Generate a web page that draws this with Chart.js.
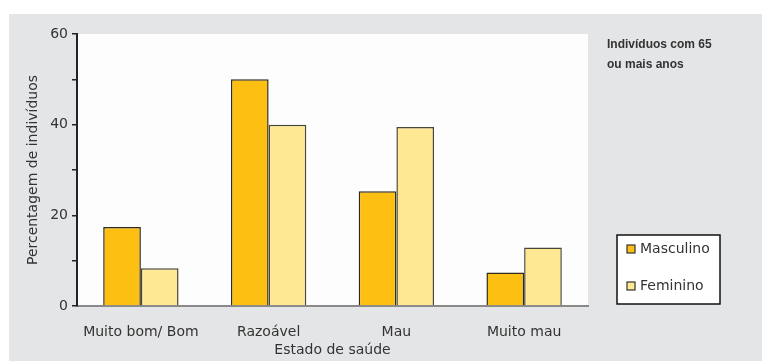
<!DOCTYPE html>
<html lang="pt">
<head>
    <meta charset="UTF-8">
    <title>Estado de saúde - Indivíduos com 65 ou mais anos</title>
    <style>
        html, body {
            margin: 0;
            padding: 0;
            background: #ffffff;
        }

        .chart-wrap {
            position: relative;
            width: 762px;
            height: 361px;
        }
    </style>
    <script src="https://cdn.jsdelivr.net/npm/chart.js"></script>
</head>
<body>
    <div class="chart-wrap">
        <canvas id="healthChart" width="762" height="361"></canvas>
    </div>

    <script>
        const categories = ['Muito bom/ Bom', 'Razoável', 'Mau', 'Muito mau'];
        const seriesNames = ['Masculino', 'Feminino'];
        const masculino = [17.4, 50, 25.3, 7.4];
        const feminino = [8.3, 40, 39.5, 12.9];
        const yTicks = [0, 20, 40, 60];

        const panelTitle = ['Indivíduos com 65', 'ou mais anos'];
        const textColor = '#333333';
        const fontFamily = '"DejaVu Sans", Verdana, sans-serif';

        // gray panel behind everything, white plot area
        const backgroundPlugin = {
            id: 'panelBackground',
            beforeDraw(chart) {
                const ctx = chart.ctx;
                const area = chart.chartArea;
                ctx.save();
                ctx.fillStyle = '#ffffff';
                ctx.fillRect(0, 0, chart.width, chart.height);
                ctx.fillStyle = '#e4e5e7';
                ctx.fillRect(9, 14, chart.width - 9, chart.height - 14);
                ctx.fillStyle = '#fdfdfd';
                ctx.fillRect(area.left, area.top, area.right - area.left, area.bottom - area.top);
                ctx.restore();
            }
        };

        // side title and boxed legend on the right
        const sidePlugin = {
            id: 'sidePanel',
            afterDraw(chart) {
                const ctx = chart.ctx;
                ctx.save();

                ctx.fillStyle = textColor;
                ctx.font = 'bold 12px "Liberation Sans", Arial, sans-serif';
                ctx.textBaseline = 'alphabetic';
                ctx.textAlign = 'left';
                panelTitle.forEach((line, i) => {
                    ctx.fillText(line, 607, 48 + i * 20);
                });

                const box = { x: 617, y: 235, w: 103, h: 69 };
                ctx.fillStyle = '#ffffff';
                ctx.fillRect(box.x, box.y, box.w, box.h);
                ctx.lineWidth = 1.5;
                ctx.strokeStyle = '#111111';
                ctx.strokeRect(box.x, box.y, box.w, box.h);

                ctx.font = '14px ' + fontFamily;
                ctx.textBaseline = 'middle';
                chart.data.datasets.forEach((ds, i) => {
                    const cy = 249 + i * 37;
                    ctx.fillStyle = ds.backgroundColor;
                    ctx.fillRect(627, cy - 4, 8, 8);
                    ctx.lineWidth = 1.2;
                    ctx.strokeStyle = '#333333';
                    ctx.strokeRect(627, cy - 4, 8, 8);
                    ctx.fillStyle = textColor;
                    ctx.fillText(ds.label, 640, cy);
                });

                ctx.restore();
            }
        };

        const ctx = document.getElementById('healthChart').getContext('2d');
        const healthChart = new Chart(ctx, {
            type: 'bar',
            data: {
                labels: categories,
                datasets: [
                    {
                        label: seriesNames[0],
                        data: masculino,
                        backgroundColor: '#fdbf12',
                        borderColor: '#2e2a1e',
                        borderWidth: 1.5
                    },
                    {
                        label: seriesNames[1],
                        data: feminino,
                        backgroundColor: '#fee893',
                        borderColor: '#4a4636',
                        borderWidth: 1.5
                    }
                ]
            },
            options: {
                responsive: false,
                animation: false,
                devicePixelRatio: 1,
                layout: {
                    padding: { left: 9, top: 34, right: 174, bottom: 0 }
                },
                datasets: {
                    bar: {
                        categoryPercentage: 0.59,
                        barPercentage: 1.0
                    }
                },
                plugins: {
                    legend: { display: false },
                    tooltip: { enabled: false }
                },
                scales: {
                    x: {
                        afterFit: (scale) => { scale.height = 55; },
                        grid: { display: false, drawTicks: false },
                        border: { display: true, color: '#8a8a8a', width: 2 },
                        ticks: {
                            color: textColor,
                            padding: 18,
                            maxRotation: 0,
                            font: { family: fontFamily, size: 14 }
                        },
                        title: {
                            display: true,
                            text: 'Estado de saúde',
                            color: textColor,
                            padding: { top: 0, bottom: 2 },
                            font: { family: fontFamily, size: 14 }
                        }
                    },
                    y: {
                        min: 0,
                        max: 60,
                        afterFit: (scale) => { scale.width = 68; },
                        grid: {
                            drawOnChartArea: false,
                            drawTicks: true,
                            tickLength: 5,
                            color: '#222222',
                            lineWidth: 1.5
                        },
                        border: { display: true, color: '#222222', width: 2 },
                        ticks: {
                            stepSize: 10,
                            padding: 4,
                            color: textColor,
                            font: { family: fontFamily, size: 14 },
                            callback: (value) => yTicks.includes(value) ? value : ''
                        },
                        title: {
                            display: true,
                            text: 'Percentagem de indivíduos',
                            color: textColor,
                            padding: { top: 16, bottom: 0 },
                            font: { family: fontFamily, size: 14 }
                        }
                    }
                }
            },
            plugins: [backgroundPlugin, sidePlugin]
        });
    </script>
</body>
</html>
